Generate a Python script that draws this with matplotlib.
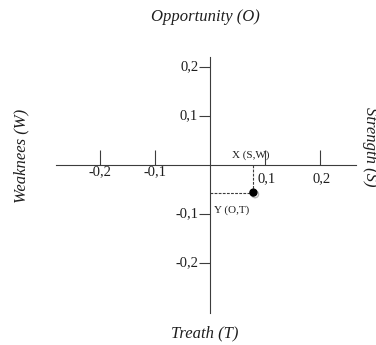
import matplotlib.pyplot as plt
import matplotlib.patheffects as pe

plt.rcParams['font.family'] = ['Liberation Serif', 'DejaVu Serif']

# tick positions and labels (comma decimal, as in the source)
x_ticks = [-0.2, -0.1, 0.1, 0.2]
x_labels = ['-0,2', '-0,1', '0,1', '0,2']
y_ticks = [0.2, 0.1, -0.1, -0.2]
y_labels = ['0,2', '0,1', '-0,1', '-0,2']

# strategic position: X = S/W score, Y = O/T score
point_x = 0.079
point_y = -0.056

line_col = '#3c3c3c'

fig = plt.figure(figsize=(3.76, 3.45), dpi=100)
ax = fig.add_axes([0, 0, 1, 1])
ax.set_xlim(-0.382, 0.302)
ax.set_ylim(-0.367, 0.337)

# axes crossing at the origin
for s in ['top', 'right']:
    ax.spines[s].set_visible(False)
ax.spines['left'].set_position(('data', 0))
ax.spines['bottom'].set_position(('data', 0))
ax.spines['left'].set_bounds(-0.302, 0.22)
ax.spines['bottom'].set_bounds(-0.28, 0.265)
for s in ['left', 'bottom']:
    ax.spines[s].set_color(line_col)
    ax.spines[s].set_linewidth(0.8)
ax.set_xticks(x_ticks)
ax.set_yticks(y_ticks)
ax.set_xticklabels([])
ax.set_yticklabels([])
ax.tick_params(axis='x', direction='in', length=11, width=0.8, color=line_col)
ax.tick_params(axis='y', direction='out', length=8, width=0.8, color=line_col)

# tick labels
for xv, lab in zip(x_ticks, x_labels):
    if xv < 0:
        ax.annotate(lab, (xv, 0), xytext=(0, 0), textcoords='offset points',
                    ha='center', va='top', fontsize=10.5, color='#1e1e1e')
    else:
        ax.annotate(lab, (xv, 0), xytext=(1.5, -5), textcoords='offset points',
                    ha='center', va='top', fontsize=10.5, color='#1e1e1e')
for yv, lab in zip(y_ticks, y_labels):
    ax.annotate(lab, (0, yv), xytext=(-8.5, 0), textcoords='offset points',
                ha='right', va='center', fontsize=10.5, color='#1e1e1e')

# dashed guides to the axes
ax.plot([point_x, point_x], [0, point_y], ls='--', lw=0.8, color=line_col, dashes=(2.5, 1.2))
ax.plot([0, point_x], [point_y, point_y], ls='--', lw=0.8, color=line_col, dashes=(2.5, 1.2))
ax.plot([point_x], [point_y], 'o', ms=5, color='black',
        path_effects=[pe.SimpleLineShadow(offset=(1.2, -1.2), shadow_color='#999999', alpha=0.7),
                      pe.Normal()])

ax.annotate('X (S,W)', (point_x, 0), xytext=(-2, 4), textcoords='offset points',
            ha='center', va='bottom', fontsize=8, color='#1e1e1e')
ax.annotate('Y (O,T)', (0, point_y), xytext=(3, -9), textcoords='offset points',
            ha='left', va='top', fontsize=8, color='#1e1e1e')

# quadrant titles
fig.text(205 / 376, 1 - 17 / 345, 'Opportunity (O)', ha='center', va='center',
         fontsize=12, style='italic', color='#1e1e1e')
fig.text(205 / 376, 1 - 333 / 345, 'Treath (T)', ha='center', va='center',
         fontsize=12, style='italic', color='#1e1e1e')
fig.text(21 / 376, 1 - 156 / 345, 'Weaknees (W)', ha='center', va='center',
         fontsize=12, style='italic', rotation=90, color='#1e1e1e')
# cut off at the right edge, as in the source figure
fig.text(370 / 376, 1 - 147 / 345, 'Strength (S)', ha='center', va='center',
         fontsize=12, style='italic', rotation=-90, color='#1e1e1e')

fig.savefig('out.png', dpi=100)
